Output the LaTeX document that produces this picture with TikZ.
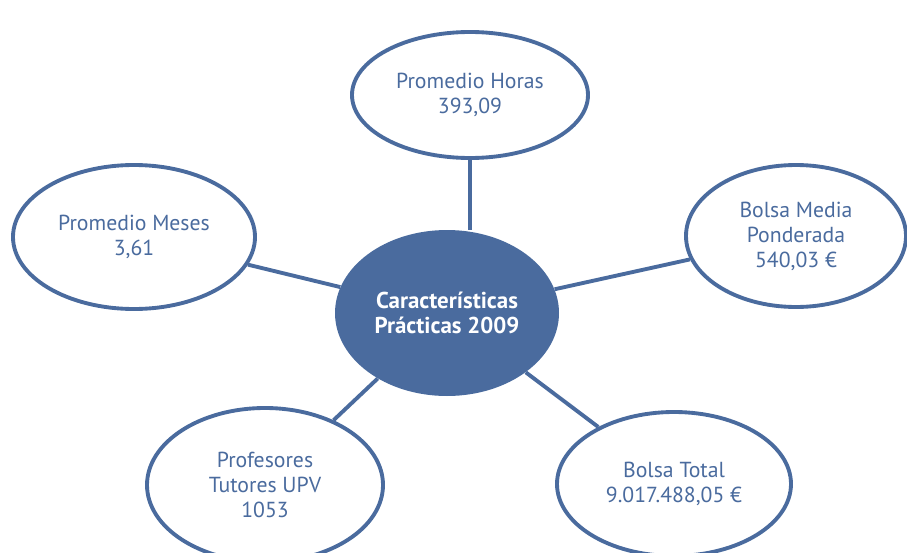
\documentclass[tikz,border=0pt]{standalone}
\usepackage{fontspec}
\setmainfont{PT Sans}
\usetikzlibrary{shapes.geometric}
\definecolor{azul}{RGB}{74,107,158}

\begin{document}
\begin{tikzpicture}[x=0.75pt,y=0.75pt,yscale=-1,xscale=1,
  burbuja/.style={ellipse, draw=azul, line width=2.9pt, fill=white, inner sep=0pt,
    text=azul, align=center, font=\fontsize{16.3}{18.8}\selectfont},
  nucleo/.style={ellipse, fill=azul, inner sep=0pt, text=white, align=center,
    font=\fontsize{17.2}{18.8}\selectfont\bfseries},
  enlace/.style={azul, line width=2.9pt}]
%set diagram frame: 907 x 553
\useasboundingbox (0,0) rectangle (907,553);
\clip (0,0) rectangle (907,553);

%Central ellipse
\node[nucleo, minimum width=168pt, minimum height=124.5pt] (core) at (447,313) {Características\\Prácticas 2009};

%Outer ellipses
\node[burbuja, minimum width=177pt, minimum height=94.5pt] (horas) at (470,95) {Promedio Horas\\393,09};
\node[burbuja, minimum width=181.5pt, minimum height=108pt] (meses) at (134,237) {Promedio Meses\\3,61};
\node[burbuja, minimum width=165pt, minimum height=106.5pt] (bolsamedia) at (796,236) {Bolsa Media\\Ponderada\\540,03 €};
\node[burbuja, minimum width=175.5pt, minimum height=108pt] (bolsatotal) at (674,484) {Bolsa Total\\9.017.488,05 €};
\node[burbuja, minimum width=177pt, minimum height=115.5pt] (profesores) at (265,485) {Profesores\\Tutores UPV\\1053};

%Connectors
\draw[enlace] (horas.south) -- (horas.south |- core.north);
\draw[enlace] (meses) -- (core);
\draw[enlace] (bolsamedia) -- (core);
\draw[enlace] (bolsatotal) -- (core);
\draw[enlace] (profesores) -- (core);
\end{tikzpicture}
\end{document}
